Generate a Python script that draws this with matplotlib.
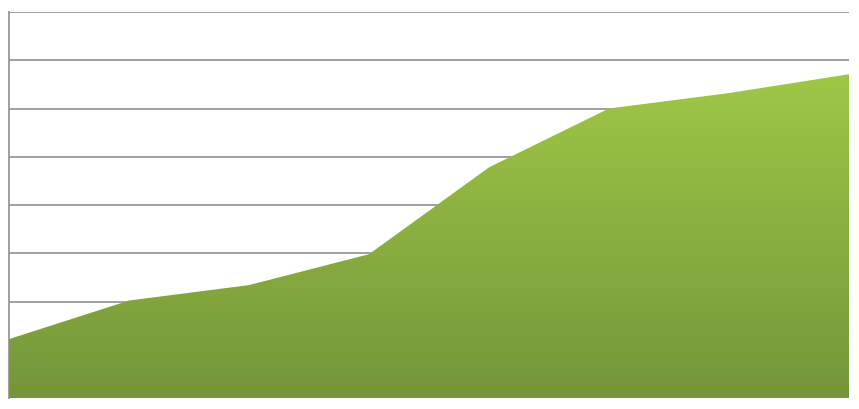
import numpy as np
import matplotlib.pyplot as plt
from matplotlib.colors import LinearSegmentedColormap
from matplotlib.patches import Polygon

# values, in grid units
periods = [0, 1, 2, 3, 4, 5, 6, 7]
values = [1.22, 2.02, 2.34, 2.98, 4.78, 6.0, 6.32, 6.71]

fig = plt.figure(figsize=(8.59, 4.09), dpi=100)
ax = fig.add_axes([9 / 859, 11 / 409, 840 / 859, 386 / 409])

ax.set_xlim(0, 7)
ax.set_ylim(0, 8)
ax.set_yticks(np.arange(1, 9))
ax.set_xticks([])
ax.tick_params(left=False, labelleft=False)
ax.grid(axis='y', color='#999999', lw=1.3)
ax.set_axisbelow(True)
for s in ['top', 'right', 'bottom']:
    ax.spines[s].set_visible(False)
ax.spines['left'].set_color('#999999')
ax.spines['left'].set_linewidth(1.3)

# soft shadow under the area
shadow = Polygon(list(zip([p + 0.015 for p in periods], [v - 0.04 for v in values]))
                 + [(7.015, -0.06), (0.015, -0.06)],
                 closed=True, fc='#bbbbbb', ec='none', alpha=0.6, zorder=2)
ax.add_patch(shadow)

# area with vertical gradient
cmap = LinearSegmentedColormap.from_list('grn', ['#75953a', '#9fc746'])
poly = Polygon(list(zip(periods, values)) + [(7, 0), (0, 0)],
               closed=True, fc='none', ec='none', zorder=3)
ax.add_patch(poly)
grad = np.linspace(0, 1, 256).reshape(-1, 1)
im = ax.imshow(grad, cmap=cmap, aspect='auto', origin='lower',
               extent=[0, 7, 0, max(values)], zorder=3)
im.set_clip_path(poly)

ax.set_xlim(0, 7)
ax.set_ylim(0, 8)

fig.savefig('out.png', dpi=100)
